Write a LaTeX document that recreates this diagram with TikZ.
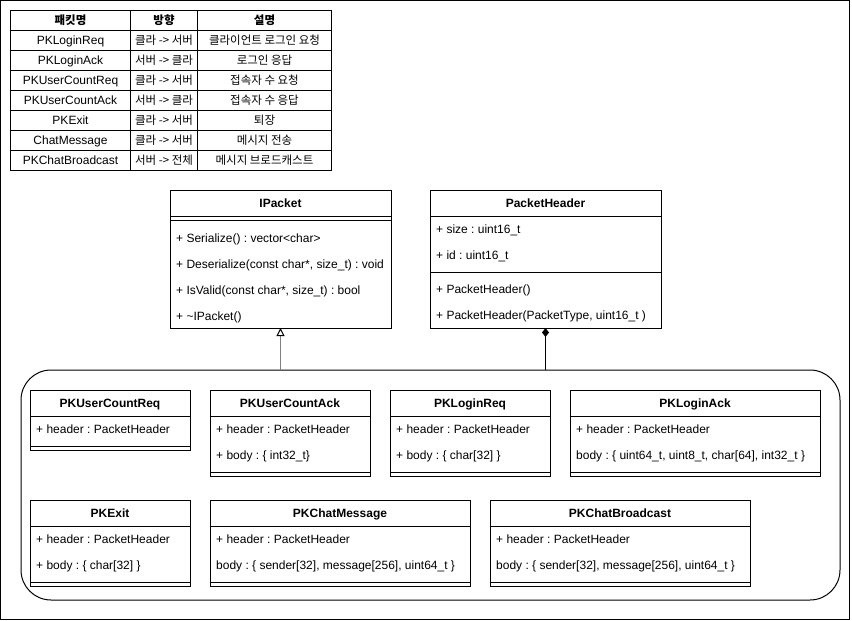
\documentclass[tikz,border=0pt]{standalone}
\usepackage{fontspec}
\setmainfont{Liberation Sans}
\newfontfamily\krfont{Noto Sans CJK KR}
\usetikzlibrary{calc,arrows.meta}
\frenchspacing

% one unit = one pixel, y grows downwards
\tikzset{
  x=1pt, y=-1pt,
  frame/.style={draw=black, line width=1pt, inner sep=0pt, outer sep=0pt, fill=white},
  sep/.style={draw=black, line width=1pt},
  ttl/.style={font=\bfseries\fontsize{12}{14}\selectfont, inner sep=0pt,
              text height=11pt, text depth=2pt},
  fld/.style={font=\fontsize{12}{14}\selectfont, anchor=west, inner sep=0pt,
              text height=11pt, text depth=2pt},
  tcell/.style={draw=black, line width=1pt, inner sep=0pt, anchor=north west,
                minimum height=20pt, font=\fontsize{12}{14}\selectfont,
                text height=10.5pt, text depth=2pt},
  krcell/.style={tcell, font=\krfont\fontsize{11.5}{14}\selectfont},
  krhead/.style={tcell, font=\krfont\bfseries\fontsize{11.5}{14}\selectfont},
  inherit/.style={draw=black!50, line width=1pt,
                  -{Triangle[open, length=8pt, width=8pt, color=black]}},
  compose/.style={draw=black, line width=1pt,
                  -{Diamond[length=9pt, width=7pt]}},
}

% class box: name, x, y, width, height, title
\newcommand{\umlbox}[6]{%
  \node[frame, minimum width=#4pt, minimum height=#5pt, anchor=north west] (#1) at (#2,#3) {};
  \node[ttl] (#1-title) at ($(#1.north)+(0,13)$) {#6};
  \draw[sep] ($(#1.north west)+(0,26)$) -- ($(#1.north east)+(0,26)$);
}
% horizontal divider at a given offset from the top of a box
\newcommand{\umlsep}[2]{%
  \draw[sep] ($(#1.north west)+(0,#2)$) -- ($(#1.north east)+(0,#2)$);
}
% member line: node name, box, offset from top, text
\newcommand{\umlfld}[4]{%
  \node[fld] (#1) at ($(#2.north west)+(6,#3)$) {#4};
}

\begin{document}
\begin{tikzpicture}
\useasboundingbox (0,0) rectangle (852,621);
\node[draw=black, line width=1pt, inner sep=0pt, outer sep=0pt, anchor=north west,
      minimum width=849pt, minimum height=619pt] (page) at (0.5,0.5) {};

% ---------- packet table ----------
\node[krhead, minimum width=120pt] (h-1) at (10,10) {패킷명};
\node[krhead, minimum width=67pt] (h-2) at (130,10) {방향};
\node[krhead, minimum width=134pt] (h-3) at (197,10) {설명};
\foreach \r/\a/\b/\c in {
  1/PKLoginReq/클라 -> 서버/클라이언트 로그인 요청,
  2/PKLoginAck/서버 -> 클라/로그인 응답,
  3/PKUserCountReq/클라 -> 서버/접속자 수 요청,
  4/PKUserCountAck/서버 -> 클라/접속자 수 응답,
  5/PKExit/클라 -> 서버/퇴장,
  6/ChatMessage/클라 -> 서버/메시지 전송,
  7/PKChatBroadcast/서버 -> 전체/메시지 브로드캐스트}{
  \node[tcell, minimum width=120pt] (r\r-1) at (10,10+20*\r) {\a};
  \node[krcell, minimum width=67pt] (r\r-2) at (130,10+20*\r) {\b};
  \node[krcell, minimum width=134pt] (r\r-3) at (197,10+20*\r) {\c};
}

% ---------- interface and header ----------
\umlbox{ipacket}{170}{190}{221}{138}{IPacket}
\umlsep{ipacket}{30}
\umlfld{ip-m1}{ipacket}{48}{+ Serialize() : vector<char>}
\umlfld{ip-m2}{ipacket}{74}{+ Deserialize(const char*, size\_t) : void}
\umlfld{ip-m3}{ipacket}{100}{+ IsValid(const char*, size\_t) : bool}
\umlfld{ip-m4}{ipacket}{126}{+ \textasciitilde IPacket()}

\umlbox{phdr}{430}{190}{231}{138}{PacketHeader}
\umlfld{ph-a1}{phdr}{39}{+ size : uint16\_t}
\umlfld{ph-a2}{phdr}{65}{+ id : uint16\_t}
\umlsep{phdr}{82}
\umlfld{ph-m1}{phdr}{99}{+ PacketHeader()}
\umlfld{ph-m2}{phdr}{125}{+ PacketHeader(PacketType, uint16\_t )}

% ---------- packet group ----------
\node[draw=black, line width=1pt, rounded corners=30pt, inner sep=0pt, outer sep=0pt,
      anchor=north west, minimum width=819pt, minimum height=230pt] (group) at (21,370) {};

\umlbox{ucreq}{30}{390}{160}{60}{PKUserCountReq}
\umlfld{ucreq-a1}{ucreq}{39}{+ header : PacketHeader}
\umlsep{ucreq}{56}

\umlbox{ucack}{210}{390}{160}{86}{PKUserCountAck}
\umlfld{ucack-a1}{ucack}{39}{+ header : PacketHeader}
\umlfld{ucack-a2}{ucack}{65}{+ body : \{ int32\_t\}}
\umlsep{ucack}{82}

\umlbox{lreq}{390}{390}{160}{86}{PKLoginReq}
\umlfld{lreq-a1}{lreq}{39}{+ header : PacketHeader}
\umlfld{lreq-a2}{lreq}{65}{+ body : \{ char[32] \}}
\umlsep{lreq}{82}

\umlbox{lack}{570}{390}{250}{86}{PKLoginAck}
\umlfld{lack-a1}{lack}{39}{+ header : PacketHeader}
\umlfld{lack-a2}{lack}{65}{body : \{ uint64\_t, uint8\_t, char[64], int32\_t \}}
\umlsep{lack}{82}

\umlbox{pexit}{30}{500}{160}{86}{PKExit}
\umlfld{pexit-a1}{pexit}{39}{+ header : PacketHeader}
\umlfld{pexit-a2}{pexit}{65}{+ body : \{ char[32] \}}
\umlsep{pexit}{82}

\umlbox{cmsg}{210}{500}{260}{86}{PKChatMessage}
\umlfld{cmsg-a1}{cmsg}{39}{+ header : PacketHeader}
\umlfld{cmsg-a2}{cmsg}{65}{body : \{ sender[32], message[256], uint64\_t \}}
\umlsep{cmsg}{82}

\umlbox{cbc}{490}{500}{260}{86}{PKChatBroadcast}
\umlfld{cbc-a1}{cbc}{39}{+ header : PacketHeader}
\umlfld{cbc-a2}{cbc}{65}{body : \{ sender[32], message[256], uint64\_t \}}
\umlsep{cbc}{82}

% ---------- relations ----------
\draw[inherit] (group.north -| ipacket.south) -- (ipacket.south);
\draw[compose] (group.north -| phdr.south) -- (phdr.south);
\end{tikzpicture}
\end{document}
